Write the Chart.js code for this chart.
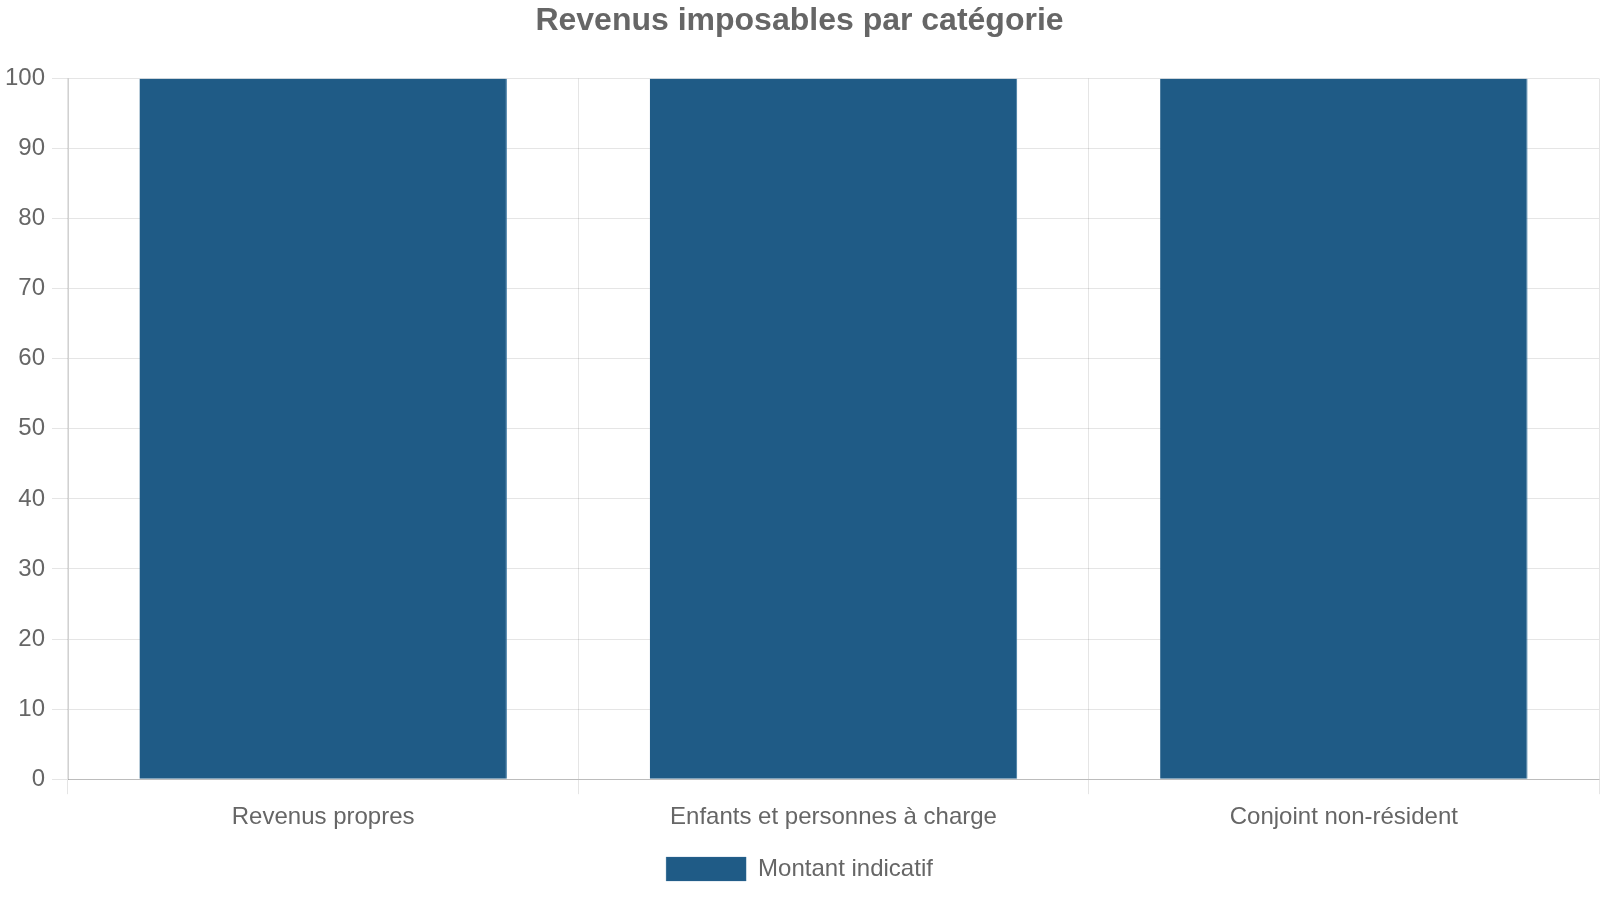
<!DOCTYPE html>
<html lang="fr">
<head>
<meta charset="utf-8">
<title>Revenus imposables par catégorie</title>
<script src="https://cdn.jsdelivr.net/npm/chart.js@4.4.1/dist/chart.umd.min.js"></script>
<style>
  html, body { margin: 0; padding: 0; background: #fff; }
  #wrap { width: 1600px; height: 900px; }
</style>
</head>
<body>
<div id="wrap"><canvas id="chart"></canvas></div>
<script>
// données
const categories = ["Revenus propres", "Enfants et personnes à charge", "Conjoint non-résident"];
const montants = [100, 100, 100];
const seriesLabel = "Montant indicatif";

Chart.defaults.font.family = "'Liberation Sans', Arial, sans-serif";
Chart.defaults.color = "#666";

const config = {
  type: 'bar',
  data: {
    labels: categories,
    datasets: [{
      label: seriesLabel,
      data: montants,
      backgroundColor: '#1f5b86',
      borderColor: '#3a75a0',
      borderWidth: { right: 1 }
    }]
  },
  options: {
    responsive: true,
    maintainAspectRatio: false,
    animation: false,
    layout: { padding: { left: 0, right: 1, top: 0, bottom: 9 } },
    scales: {
      x: {
        grid: { offset: true, color: 'rgba(0,0,0,0.1)', tickLength: 15 },
        border: { color: 'rgba(0,0,0,0.18)' },
        ticks: { font: { size: 24 }, padding: 9 }
      },
      y: {
        min: 0,
        max: 100,
        grid: { color: 'rgba(0,0,0,0.1)', tickLength: 16 },
        border: { color: 'rgba(0,0,0,0.18)' },
        ticks: { stepSize: 10, font: { size: 24 }, padding: 7 },
        afterFit: function(scale) { scale.width = 68; }
      }
    },
    plugins: {
      title: {
        display: true,
        text: 'Revenus imposables par catégorie',
        font: { size: 32, weight: 'bold' },
        padding: { top: 2, bottom: 38 }
      },
      legend: {
        position: 'bottom',
        labels: { boxWidth: 80, boxHeight: 24, padding: 16, font: { size: 24 } }
      },
      tooltip: { enabled: false }
    }
  }
};

new Chart(document.getElementById('chart'), config);
</script>
</body>
</html>
